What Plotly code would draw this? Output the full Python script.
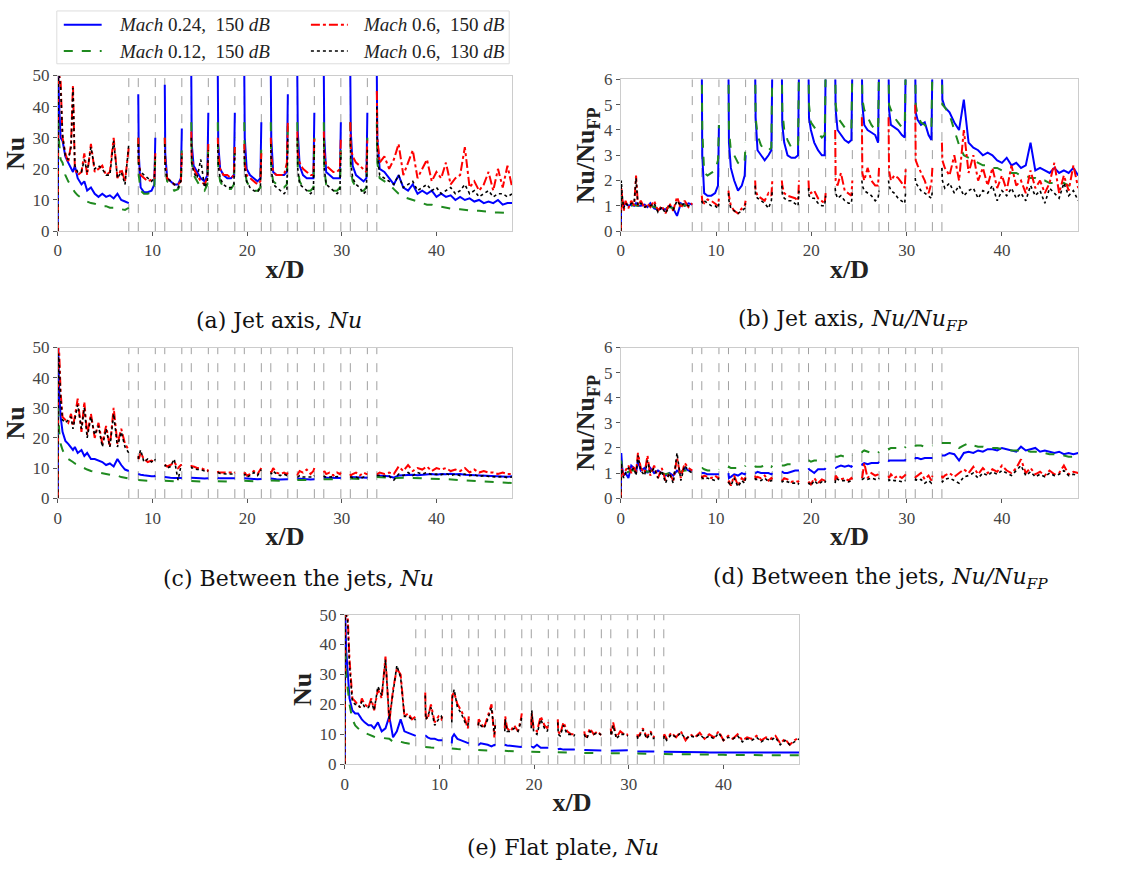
import plotly.graph_objects as go

# ---------------- x sampling (x/D) ----------------
SEG0_X = [0, 0.05, 0.15, 0.3, 0.5, 0.8, 1.1, 1.4, 1.6, 1.8, 2.1, 2.5, 2.8, 3.1, 3.5,
          3.9, 4.3, 4.7, 5.1, 5.5, 5.9, 6.3, 6.7, 7.1, 7.5]
JET_STARTS = [8.5, 11.3, 14.1, 16.9, 19.7, 22.5, 25.3, 28.1, 30.9]
JET_OFFSETS = [0, 0.05, 0.25, 0.6, 1.0, 1.4, 1.7, 1.8]
LAST_X = [33.7, 33.75, 34.0, 34.5, 35.0, 35.5, 36.0, 36.5, 37.0, 37.5, 38.0, 38.5, 39.0,
          39.5, 40.0, 40.5, 41.0, 41.5, 42.0, 42.5, 43.0, 43.5, 44.0, 44.5, 45.0, 45.5,
          46.0, 46.5, 47.0, 47.5, 48.0]
JET_EDGES = [7.5, 8.5, 10.3, 11.3, 13.1, 14.1, 15.9, 16.9, 18.7, 19.7, 21.5, 22.5,
             24.3, 25.3, 27.1, 28.1, 29.9, 30.9, 32.7, 33.7]

SERIES_NAMES = ["<i>Mach</i> 0.24,  150 <i>dB</i>", "<i>Mach</i> 0.12,  150 <i>dB</i>",
                "<i>Mach</i> 0.6,  150 <i>dB</i>", "<i>Mach</i> 0.6,  130 <i>dB</i>"]

# ---------------- (a) Jet axis, Nu ----------------
A_M024 = [0, 50, 40, 30, 29, 24, 22, 20, 19, 21, 17, 15, 16, 13, 14, 12, 11, 12, 11, 11.5, 10.5, 12, 10, 9.5, 9,
          44, 25, 14, 12.5, 12.5, 13, 15, 30,
          47, 25, 17, 16, 15, 15, 17, 33,
          50, 28, 21, 19, 17, 16, 18, 38,
          50, 28, 20, 18, 17, 17, 18, 38,
          50, 30, 20, 18, 17, 16, 17, 35,
          50, 30, 19, 18, 18, 18, 19, 44,
          50, 32, 21, 18, 17, 17, 17, 38,
          50, 30, 19, 18, 17, 17, 17, 35,
          50, 32, 21, 18, 17, 16, 17, 38,
          50, 30, 20, 19, 17, 15, 18, 14, 13, 15, 12, 13, 12, 13, 11, 12, 11, 11.5, 10, 11, 10, 10.5, 9.5, 10, 9, 9.5, 9, 10, 8.5, 9, 9]
A_M012 = [0, 35, 28, 23, 22, 18, 16, 14.5, 13.5, 12.5, 11.5, 10.5, 10, 9.5, 9, 8.8, 8.5, 8, 8, 7.5, 7.5, 7.2, 7, 6.8, 7.5,
          30, 18, 13, 12, 12, 12.5, 14, 25,
          30, 20, 16, 15, 13, 13.5, 15, 28,
          35, 22, 18, 16, 14, 13, 15, 30,
          35, 20, 16, 14, 13.5, 13.5, 15, 30,
          35, 20, 16, 14, 13, 13, 14, 28,
          35, 20, 16, 15, 14, 14, 15, 35,
          35, 20, 16, 14, 13, 13, 14, 30,
          35, 20, 15, 14, 13, 13, 14, 28,
          35, 20, 16, 14, 13, 13, 14, 30,
          35, 22, 17, 16, 15, 13.5, 12, 11, 10.5, 10, 9.5, 9, 8.5, 8.5, 8, 7.8, 7.5, 7.3, 7, 7, 6.8, 6.8, 6.5, 6.5, 6.3, 6.2, 6, 6, 5.8, 5.8, 6]
A_M06_150 = [0, 50, 50, 48, 30, 25, 22, 28, 47, 20, 18, 19, 25, 18, 28, 19, 20, 21, 18, 19, 30, 17, 20, 16, 27,
             30, 22, 18, 17, 16, 16.5, 17, 25,
             30, 22, 17, 16, 15, 15, 16, 25,
             32, 24, 20, 18, 16, 15, 17, 28,
             30, 25, 20, 18, 18, 17, 18, 27,
             28, 22, 18, 17, 16, 15, 16, 25,
             30, 24, 19, 18, 18, 18, 22, 35,
             32, 25, 22, 20, 19, 18, 18, 30,
             32, 25, 21, 20, 19, 19, 20, 30,
             35, 27, 24, 22, 21, 20, 19, 30,
             45, 30, 22, 24, 20, 23, 28, 18, 22, 26, 17, 20, 23, 16, 19, 17, 22, 15, 17, 18, 27, 14, 16, 13, 15, 19, 13, 20, 14, 21, 14]
A_M06_130 = [0, 50, 50, 46, 31, 24, 23, 27, 46, 21, 19, 19, 23, 19, 27, 20, 21, 20, 18, 18, 29, 17, 19, 15, 28,
             28, 21, 19, 18, 17, 16, 17, 24,
             28, 20, 17, 16, 15, 14, 16, 24,
             30, 22, 19, 17, 23, 14, 16, 26,
             28, 21, 17, 15, 14, 14, 15, 25,
             26, 20, 16, 14, 13, 12.5, 14, 24,
             28, 20, 15, 14, 13, 12, 13, 30,
             30, 20, 15, 14, 13, 12, 13, 28,
             30, 20, 15, 14, 13, 12, 13, 25,
             30, 22, 17, 15, 14, 12, 13, 27,
             40, 25, 18, 17, 16, 15, 18, 14, 15, 16, 13, 14, 15, 13, 14, 12, 13, 14, 12, 13, 15, 12, 13, 11, 12, 13, 11, 12, 12, 11, 12]

# ---------------- (b) Jet axis, Nu/Nu_FP ----------------
B_M024 = [0, 1.5, 1.2, 1.0, 1.1, 1.0, 1.05, 1.0, 1.1, 1.0, 1.0, 1.05, 0.95, 1.1, 0.9, 0.85, 0.9, 0.85, 1.0, 0.9, 0.6, 1.1, 1.0, 1.1, 1.05,
          6.5, 3, 1.5, 1.4, 1.4, 1.5, 1.8, 4.2,
          6.5, 3.5, 2.5, 2.0, 1.6, 1.8, 2.2, 3.0,
          6.5, 4.5, 3.2, 3.0, 2.8, 3.0, 3.2, 6.5,
          6.5, 4.2, 3.5, 3.0, 2.9, 2.9, 3.0, 6.5,
          6.5, 4.5, 4.0, 3.5, 3.2, 3.0, 3.0, 6.5,
          6.5, 4.8, 4.0, 3.8, 3.6, 3.5, 3.6, 6.5,
          6.5, 5.0, 4.2, 4.0, 3.9, 3.8, 3.5, 6.5,
          6.5, 4.8, 4.2, 4.1, 4.0, 3.8, 3.7, 6.5,
          6.5, 4.7, 4.4, 4.2, 4.3, 3.8, 3.6, 6.5,
          6.5, 5.2, 4.9, 4.7, 4.3, 4.0, 5.2, 3.5, 3.3, 3.2, 3.0, 3.1, 3.0, 2.8, 2.7, 2.9, 2.6, 2.7, 2.5, 2.6, 3.5, 2.4, 2.5, 2.4, 2.3, 2.5, 2.3, 2.4, 2.3, 2.5, 2.2]
B_M012 = [0, 1.4, 1.1, 1.0, 1.05, 1.0, 1.0, 1.05, 1.0, 1.0, 1.0, 1.0, 1.0, 1.0, 0.95, 0.9, 0.9, 0.9, 0.95, 0.9, 0.8, 1.05, 1.0, 1.05, 1.0,
          6.5, 4.0, 2.3, 2.2, 2.3, 2.4, 2.8, 4.2,
          6.5, 4.0, 3.2, 3.0, 2.7, 2.6, 2.8, 3.5,
          6.5, 4.5, 3.8, 3.4, 3.2, 3.2, 3.3, 6.5,
          6.5, 4.8, 4.0, 3.6, 3.3, 3.3, 3.4, 6.5,
          6.5, 5.0, 4.3, 4.1, 3.9, 3.7, 3.8, 6.5,
          6.5, 5.0, 4.5, 4.3, 4.1, 4.0, 4.0, 6.5,
          6.5, 5.2, 4.8, 4.5, 4.2, 4.0, 4.0, 6.5,
          6.5, 5.0, 4.8, 4.5, 4.3, 4.1, 4.2, 6.5,
          6.5, 5.0, 4.6, 4.3, 4.2, 4.0, 4.1, 6.5,
          6.5, 5.0, 4.9, 4.6, 4.0, 3.4, 3.0, 2.9, 2.8, 2.7, 2.6, 2.6, 2.5, 2.5, 2.4, 2.4, 2.3, 2.3, 2.2, 2.2, 2.1, 2.1, 2.0, 2.0, 1.9, 1.9, 1.9, 1.9, 1.8, 1.8, 1.8]
B_M06_150 = [0, 1.7, 1.3, 0.8, 1.2, 0.9, 1.2, 1.0, 2.2, 1.0, 1.2, 0.9, 1.1, 0.95, 1.2, 0.8, 1.0, 0.7, 1.1, 0.8, 1.35, 0.9, 1.2, 0.95, 1.1,
             1.4, 1.2, 1.1, 1.25, 1.2, 1.1, 1.0, 1.3,
             1.6, 1.4, 1.0, 0.8, 0.7, 0.9, 1.0, 1.2,
             2.0, 1.6, 1.4, 1.3, 1.2, 1.5, 1.4, 2.0,
             2.0, 1.8, 1.5, 1.4, 1.35, 1.3, 1.2, 2.0,
             2.0, 1.6, 1.5, 1.6, 1.3, 1.2, 1.1, 1.5,
             4.0, 2.0, 1.8, 2.3, 1.6, 1.5, 1.4, 2.0,
             4.5, 2.3, 2.0, 2.5, 2.0, 1.8, 1.8, 2.5,
             4.5, 2.4, 2.0, 2.2, 2.1, 1.9, 1.7, 2.5,
             5.0, 2.8, 2.6, 2.3, 2.0, 1.5, 1.9, 2.5,
             3.5, 2.8, 2.5, 2.2, 3.0, 2.0, 4.0, 2.3, 3.0, 2.0, 2.5, 1.8, 2.5, 1.7, 2.2, 1.6, 2.6, 1.8, 2.0, 1.5, 2.4, 1.7, 2.0, 1.5, 1.9, 2.7, 1.5, 2.2, 1.6, 2.6, 1.7]
B_M06_130 = [0, 2.0, 1.4, 0.9, 1.1, 1.0, 1.1, 1.1, 2.1, 1.0, 1.1, 0.95, 1.0, 1.0, 1.1, 0.75, 0.95, 0.7, 1.0, 0.85, 1.2, 1.0, 1.1, 1.0, 1.05,
             1.2, 1.1, 1.2, 1.1, 1.0, 1.0, 0.9, 1.1,
             1.5, 1.2, 0.9, 0.8, 0.7, 0.8, 0.9, 1.1,
             1.8, 1.4, 1.3, 1.2, 1.1, 0.9, 1.2, 1.6,
             1.8, 1.5, 1.3, 1.2, 1.2, 1.1, 1.0, 1.6,
             1.7, 1.4, 1.3, 1.3, 1.1, 1.0, 1.0, 1.4,
             1.7, 1.5, 1.3, 1.4, 1.2, 1.1, 1.1, 1.5,
             2.0, 1.8, 1.6, 1.5, 1.4, 1.2, 1.3, 1.6,
             2.0, 1.8, 1.6, 1.5, 1.3, 1.2, 1.1, 1.6,
             2.1, 1.9, 1.8, 1.6, 1.5, 1.4, 1.3, 1.6,
             2.5, 2.0, 1.7, 1.9, 1.5, 1.8, 1.4, 1.6, 1.7, 1.3, 1.6, 1.5, 1.8, 1.2, 1.6, 1.4, 1.7, 1.3, 1.5, 1.2, 1.8, 1.4, 1.6, 1.1, 1.7, 1.5, 1.3, 1.9, 1.4, 1.6, 1.2]

# ---------------- (c) Between the jets, Nu ----------------
C_M024 = [0, 50, 35, 27, 22, 19, 18, 17, 16, 17, 15, 16, 14, 15, 13, 13, 12.5, 12, 11, 11.5, 10.5, 13, 11, 9.5, 9,
          8, 8, 7.8, 7.6, 7.4, 7.3, 7.3, 7.5,
          7, 7, 6.8, 6.8, 6.7, 6.6, 6.6, 6.7,
          6.8, 6.8, 6.7, 6.6, 6.6, 6.5, 6.5, 6.6,
          6.8, 6.7, 6.6, 6.6, 6.5, 6.5, 6.5, 6.6,
          6.6, 6.6, 6.5, 6.5, 6.4, 6.3, 6.3, 6.4,
          6.5, 6.5, 6.4, 6.3, 6.2, 6.2, 6.2, 6.3,
          6.5, 6.5, 6.4, 6.3, 6.3, 6.2, 6.2, 6.3,
          6.8, 6.8, 6.7, 6.6, 6.6, 6.6, 6.6, 6.7,
          7, 7, 6.9, 6.9, 6.8, 6.8, 6.8, 6.8,
          7.5, 7.5, 7.5, 7.4, 7.3, 6.8, 7.5, 7.6, 7.7, 7.8, 7.6, 7.8, 7.9, 8, 7.8, 8, 7.9, 8.1, 7.9, 8, 7.8, 7.7, 7.6, 7.5, 7.4, 7.3, 7.2, 7.2, 7.1, 7.1, 7.3]
C_M012 = [0, 30, 22, 18, 16, 14, 13, 12.5, 12, 11.5, 11, 10.5, 10, 9.5, 9, 8.8, 8.5, 8.2, 8, 7.8, 7.5, 7.5, 7, 6.8, 6.5,
          6, 6, 6, 5.8, 5.8, 5.7, 5.7, 5.8,
          5.8, 5.8, 5.7, 5.6, 5.6, 5.5, 5.5, 5.6,
          5.7, 5.7, 5.6, 5.6, 5.5, 5.5, 5.4, 5.5,
          5.6, 5.6, 5.5, 5.5, 5.4, 5.4, 5.4, 5.5,
          5.8, 5.8, 5.7, 5.6, 5.6, 5.5, 5.5, 5.6,
          5.9, 5.9, 5.8, 5.8, 5.7, 5.7, 5.7, 5.7,
          6, 6, 6, 5.9, 5.9, 5.9, 5.9, 6,
          6.3, 6.3, 6.2, 6.2, 6.2, 6.1, 6.1, 6.2,
          6.5, 6.5, 6.4, 6.4, 6.3, 6.3, 6.3, 6.3,
          7, 7, 7, 6.8, 6.8, 6.7, 6.8, 6.8, 6.8, 6.7, 6.6, 6.6, 6.5, 6.5, 6.4, 6.3, 6.3, 6.2, 6.1, 6, 5.9, 5.8, 5.7, 5.6, 5.5, 5.4, 5.3, 5.2, 5.1, 5, 5]
C_M06_150 = [0, 50, 48, 35, 27, 26, 25, 28, 24, 27, 33, 22, 32, 21, 28, 20, 25, 18, 24, 17, 30, 18, 23, 18, 16,
             14, 13, 15, 13, 12, 12.5, 12, 12,
             11, 11, 10.5, 11, 12, 10, 11, 11,
             11, 10.5, 10.5, 10, 10, 9.5, 9, 9.5,
             9, 8.5, 8.5, 8.5, 8.3, 8.5, 8.2, 8.5,
             8, 8.5, 7.5, 8, 9, 8, 9.5, 10,
             9, 8.5, 10, 8.5, 8, 8.5, 8, 8.5,
             7.5, 8, 9, 8.5, 9.5, 8, 9, 10,
             8.5, 9, 8, 8.5, 7.5, 8.5, 8, 8.5,
             8, 7.5, 8, 8.5, 7.5, 8.5, 8, 8,
             8, 8, 8.5, 8, 8.5, 8, 10.5, 9, 11, 9, 10, 9.5, 10.5, 9, 10, 9.5, 10, 9, 9.5, 9, 10, 8.5, 9.5, 8.5, 9, 8.5, 8.5, 8, 8.5, 8, 8]
C_M06_130 = [0, 48, 45, 33, 26, 25, 26, 27, 23, 26, 31, 23, 30, 20, 27, 21, 24, 17, 23, 17, 28, 17, 22, 17, 15,
             13, 14, 16, 12, 13, 12, 13, 12.5,
             10.5, 11, 10, 10.5, 13, 6, 10.5, 11,
             10.5, 10, 10, 9.5, 9.5, 9, 9, 9,
             8.5, 8.5, 8.2, 8, 8, 8, 8, 8,
             7.5, 8, 7, 7.5, 8.5, 7.5, 9, 9.5,
             8.5, 8, 9, 8, 7.5, 8, 7.5, 8,
             7, 7, 7.5, 7, 7, 7, 7, 7.5,
             7.5, 7.2, 7, 7, 7, 7, 7, 7.2,
             7.2, 7, 6.8, 7, 6.5, 7, 6.8, 7,
             7.5, 7.5, 7.5, 7.2, 7.3, 6, 8, 7.5, 8.5, 7.5, 8.5, 8, 8.5, 7.8, 8, 7.8, 8.2, 7.5, 8, 7.5, 8, 7.5, 7.8, 7.2, 7.5, 7.2, 7, 7, 7.2, 6.8, 7]

# ---------------- (d) Between the jets, Nu/Nu_FP ----------------
D_M024 = [0, 1.8, 1.2, 0.9, 1.0, 0.8, 1.3, 1.2, 1.0, 1.5, 1.1, 1.2, 1.0, 1.2, 1.0, 1.1, 1.0, 0.9, 1.0, 0.9, 1.1, 1.0, 1.2, 1.1, 1.1,
          1.0, 1.0, 1.0, 0.95, 0.95, 0.95, 0.95, 0.95,
          1.0, 0.8, 0.85, 0.95, 0.9, 1.0, 0.95, 1.0,
          1.0, 1.0, 1.05, 1.0, 1.0, 1.0, 0.95, 1.0,
          1.05, 1.05, 1.0, 1.0, 1.05, 1.1, 1.1, 1.1,
          1.2, 1.15, 1.1, 1.0, 1.15, 1.15, 1.15, 1.2,
          1.2, 1.2, 1.25, 1.3, 1.25, 1.3, 1.25, 1.3,
          1.3, 1.35, 1.4, 1.35, 1.4, 1.4, 1.4, 1.45,
          1.45, 1.5, 1.5, 1.5, 1.5, 1.5, 1.5, 1.55,
          1.55, 1.6, 1.6, 1.55, 1.6, 1.6, 1.6, 1.6,
          1.7, 1.7, 1.7, 1.8, 1.75, 1.5, 1.8, 1.85, 1.8, 1.9, 1.85, 1.95, 1.95, 1.9, 2.0, 1.95, 1.9, 1.85, 2.05, 1.9, 1.95, 2.0, 1.85, 1.9, 1.85, 1.8, 1.85, 1.75, 1.8, 1.75, 1.8]
D_M012 = [0, 1.5, 1.1, 1.0, 1.0, 1.05, 1.1, 1.1, 1.05, 1.1, 1.1, 1.1, 1.05, 1.1, 1.05, 1.0, 1.0, 0.95, 1.0, 0.95, 1.0, 1.05, 1.1, 1.1, 1.1,
          1.2, 1.2, 1.15, 1.1, 1.1, 1.1, 1.1, 1.15,
          1.2, 1.25, 1.2, 1.2, 1.2, 1.25, 1.25, 1.3,
          1.3, 1.25, 1.25, 1.25, 1.3, 1.35, 1.25, 1.3,
          1.3, 1.3, 1.3, 1.35, 1.35, 1.35, 1.35, 1.4,
          1.5, 1.5, 1.45, 1.5, 1.5, 1.45, 1.45, 1.5,
          1.65, 1.65, 1.65, 1.7, 1.65, 1.65, 1.65, 1.7,
          1.8, 1.85, 1.9, 1.85, 1.8, 1.8, 1.8, 1.85,
          2.0, 1.95, 2.0, 2.0, 2.0, 2.05, 2.0, 2.05,
          2.05, 2.1, 2.1, 2.1, 2.05, 2.1, 2.1, 2.1,
          2.2, 2.2, 2.2, 2.2, 2.15, 2.0, 2.1, 2.2, 2.1, 2.05, 2.05, 2.0, 2.0, 2.0, 1.95, 1.95, 1.9, 1.9, 1.9, 1.9, 1.85, 1.85, 1.8, 1.8, 1.75, 1.75, 1.7, 1.7, 1.65, 1.65, 1.6]
D_M06_150 = [0, 1.3, 1.1, 0.9, 1.1, 1.3, 1.0, 1.3, 1.0, 1.8, 1.2, 1.0, 1.7, 0.9, 1.3, 0.8, 1.2, 0.7, 1.0, 0.7, 1.6, 0.8, 1.4, 1.2, 1.1,
             0.9, 0.8, 0.9, 0.85, 0.8, 0.9, 0.8, 0.85,
             0.6, 0.7, 0.5, 0.9, 0.5, 0.8, 0.7, 0.9,
             0.9, 0.8, 0.85, 0.8, 0.9, 0.7, 0.8, 0.75,
             0.75, 0.7, 0.8, 0.75, 0.65, 0.7, 0.65, 0.7,
             0.6, 0.65, 0.55, 0.8, 0.6, 0.75, 0.7, 0.75,
             0.7, 0.9, 0.8, 0.75, 0.8, 0.7, 0.8, 0.75,
             0.8, 0.85, 1.4, 0.8, 1.0, 0.9, 0.95, 1.0,
             0.9, 0.8, 0.95, 0.8, 0.9, 0.8, 0.9, 0.95,
             0.8, 0.85, 0.9, 1.0, 0.75, 0.9, 0.7, 0.9,
             0.9, 0.8, 0.9, 1.0, 0.85, 1.0, 1.15, 1.0, 1.25, 0.95, 1.2, 1.0, 1.15, 1.05, 1.3, 1.1, 1.0, 1.2, 1.55, 1.0, 1.2, 0.95, 1.05, 0.9, 1.1, 0.95, 1.0, 1.3, 0.95, 1.05, 1.0]
D_M06_130 = [0, 1.4, 1.0, 0.8, 1.0, 1.2, 1.1, 1.2, 0.9, 1.7, 1.1, 0.9, 1.5, 1.0, 1.2, 0.8, 1.1, 0.6, 1.0, 0.6, 1.8, 0.7, 1.3, 1.1, 1.0,
             0.85, 0.8, 0.75, 0.8, 0.75, 0.7, 0.75, 0.8,
             0.65, 0.6, 0.5, 0.8, 0.45, 0.7, 0.6, 0.8,
             0.8, 0.75, 0.75, 0.7, 0.8, 0.65, 0.7, 0.7,
             0.7, 0.65, 0.7, 0.65, 0.6, 0.6, 0.55, 0.6,
             0.55, 0.6, 0.5, 0.7, 0.55, 0.65, 0.6, 0.7,
             0.6, 0.8, 0.75, 0.7, 0.7, 0.65, 0.7, 0.7,
             0.75, 0.75, 0.8, 0.75, 0.8, 0.75, 0.75, 0.8,
             0.75, 0.7, 0.75, 0.7, 0.7, 0.65, 0.7, 0.7,
             0.7, 0.75, 0.7, 0.75, 0.6, 0.7, 0.6, 0.7,
             0.7, 0.65, 0.75, 0.8, 0.7, 0.6, 0.85, 0.9, 1.0, 0.8, 1.0, 0.9, 1.05, 0.95, 1.1, 1.0, 0.9, 1.1, 1.3, 0.9, 1.05, 0.85, 0.95, 0.85, 1.0, 0.9, 0.95, 1.1, 0.9, 0.95, 0.9]

# ---------------- (e) Flat plate, Nu ----------------
E_M024 = [0, 50, 38, 30, 22, 18, 17, 17, 16, 15, 14, 13, 13, 12, 14, 11, 12, 16, 9, 11, 15, 11, 10.5, 10, 9.5,
          9.5, 9.5, 9, 8.5, 8.5, 8, 8, 8,
          7, 9, 10, 8.5, 8, 7.5, 7, 7,
          6.5, 6.5, 7, 6.8, 6.5, 6, 6.5, 6.3,
          6.5, 6.5, 6.3, 6.2, 6.0, 5.9, 5.8, 6.0,
          5.7, 5.8, 5.6, 6.5, 5.5, 5.4, 5.4, 5.5,
          5.0, 5.0, 5.2, 4.9, 5.0, 4.9, 4.9, 5.0,
          4.8, 4.8, 4.7, 4.7, 4.7, 4.6, 4.6, 4.6,
          4.5, 4.5, 4.6, 4.5, 4.5, 4.6, 4.6, 4.7,
          4.3, 4.3, 4.4, 4.3, 4.4, 4.3, 4.3, 4.3,
          4.2, 4.2, 4.1, 4.2, 4.0, 4.1, 4.0, 4.1, 4.0, 4.0, 4.0, 3.9, 4.0, 3.9, 3.9, 4.0, 3.9, 3.9, 3.9, 3.8, 3.9, 3.8, 3.8, 3.9, 3.8, 3.8, 3.8, 3.7, 3.8, 3.8, 3.9]
E_M012 = [0, 40, 30, 25, 20, 15, 13, 12, 11.5, 11, 10.5, 10, 9.5, 9.2, 9, 8.8, 8.5, 8.5, 7.5, 7.6, 7.5, 7.2, 7.0, 6.8, 6.5,
          5.8, 5.8, 5.7, 5.6, 5.5, 5.4, 5.4, 5.4,
          5.3, 5.3, 5.2, 5.1, 5.0, 5.0, 4.9, 4.9,
          4.8, 4.8, 4.7, 4.6, 4.6, 4.5, 4.5, 4.5,
          4.5, 4.5, 4.4, 4.3, 4.3, 4.2, 4.2, 4.2,
          4.2, 4.2, 4.1, 4.1, 4.0, 4.0, 4.0, 4.0,
          4.0, 4.0, 3.9, 3.9, 3.9, 3.8, 3.8, 3.8,
          3.8, 3.8, 3.8, 3.7, 3.7, 3.7, 3.7, 3.7,
          3.7, 3.7, 3.6, 3.6, 3.6, 3.6, 3.6, 3.6,
          3.6, 3.6, 3.5, 3.5, 3.5, 3.5, 3.5, 3.5,
          3.4, 3.4, 3.4, 3.4, 3.3, 3.3, 3.3, 3.3, 3.3, 3.2, 3.2, 3.2, 3.2, 3.2, 3.2, 3.1, 3.1, 3.1, 3.1, 3.1, 3.1, 3.0, 3.0, 3.0, 3.0, 3.0, 3.0, 3.0, 3.0, 3.0, 3.0]
E_M06_150 = [0, 50, 50, 50, 35, 22, 21, 20, 19, 22, 20, 19, 22, 18, 25, 22, 36, 14, 25, 32, 30, 16, 17, 15, 16,
             24, 16, 15, 20, 14, 16, 15, 16,
             15, 23, 24, 20, 18, 15, 12, 16,
             13, 15, 14, 12, 16, 20, 9, 14,
             12, 16, 12, 11, 13, 11, 15, 17,
             13, 17, 12, 11, 16, 13, 12, 14,
             15, 11, 10, 14, 11, 10, 10, 10.5,
             11, 10, 9, 12, 10, 11, 10, 10.5,
             12, 10, 14, 9, 11, 10, 10, 9.5,
             10, 9, 10, 12, 9, 11, 9, 9.5,
             9, 10, 8.5, 10.5, 9, 11, 8, 10, 9, 10.5, 8.5, 10, 9, 11, 8, 9.5, 8.5, 10, 8, 9, 8.5, 9.5, 8, 9, 8.5, 9.5, 7, 8.5, 6.5, 8, 9]
E_M06_130 = [0, 50, 50, 48, 33, 21, 20, 20, 19, 21, 19, 19, 21, 18, 26, 23, 35, 15, 24, 33, 29, 16, 16, 15, 15,
             23, 15, 16, 19, 13, 15, 16, 15,
             14, 22, 25, 19, 17, 14, 13, 15,
             13, 14, 13, 12, 15, 19, 10, 13,
             11, 15, 11, 11, 12, 11, 14, 16,
             12, 18, 11, 10, 15, 12, 11, 13,
             14, 10, 9.5, 13, 10, 10, 9.5, 10,
             10, 9.5, 8.5, 11, 10, 10.5, 10, 10,
             11, 9.5, 13, 8.5, 10, 10, 9.5, 9.5,
             9.5, 8.5, 9.5, 11.5, 8.5, 10.5, 8.5, 9,
             8.5, 9.5, 8, 10, 9, 10.5, 8.5, 9.5, 9, 10, 8.5, 9.5, 8.5, 10.5, 8, 9, 8.5, 9.5, 7.5, 8.5, 8, 9, 7.5, 8.5, 8, 9, 6.5, 8, 6.5, 7.5, 8.5]

# ---------------- build figure ----------------
SEGMENTS = [SEG0_X] + [[s + o for o in JET_OFFSETS] for s in JET_STARTS] + [LAST_X]


def split_series(vals):
    xs, ys, i = [], [], 0
    total = sum(len(s) for s in SEGMENTS)
    if len(vals) != total:
        raise ValueError(f"length {len(vals)} != {total}")
    for seg in SEGMENTS:
        xs += seg + [None]
        ys += vals[i:i + len(seg)] + [None]
        i += len(seg)
    return xs, ys


STYLES = [dict(color="#0000ff", width=2, dash="solid"),
          dict(color="#1f8a1f", width=2, dash="dash"),
          dict(color="#ff0000", width=2, dash="dashdot"),
          dict(color="#000000", width=1.6, dash="dot")]

W, H = 1126, 877


def px_x(p):
    return p / W


def px_y(p):
    return 1 - p / H


PANELS = [
    ("", [A_M024, A_M012, A_M06_150, A_M06_130], (54, 510), (68, 227), [0, 50], [0, 10, 20, 30, 40, 50], "<b>Nu</b>"),
    ("2", [B_M024, B_M012, B_M06_150, B_M06_130], (619, 1078), (72, 227), [0, 6], [0, 1, 2, 3, 4, 5, 6], "<b>Nu/Nu<sub>FP</sub></b>"),
    ("3", [C_M024, C_M012, C_M06_150, C_M06_130], (54, 510), (346, 500), [0, 50], [0, 10, 20, 30, 40, 50], "<b>Nu</b>"),
    ("4", [D_M024, D_M012, D_M06_150, D_M06_130], (619, 1078), (346, 500), [0, 6], [0, 1, 2, 3, 4, 5, 6], "<b>Nu/Nu<sub>FP</sub></b>"),
    ("5", [E_M024, E_M012, E_M06_150, E_M06_130], (342, 798), (619, 772), [0, 50], [0, 10, 20, 30, 40, 50], "<b>Nu</b>"),
]

fig = go.Figure()
SERIF = "Liberation Serif"
tickfont = dict(family=SERIF, size=17, color="#444444")
titlefont = dict(family=SERIF, size=26, color="#222222")

layout = dict(width=W, height=H, margin=dict(l=0, r=0, t=0, b=0),
              paper_bgcolor="white", plot_bgcolor="white", showlegend=False)

for suffix, series, (x0, x1), (y0, y1), yr, ytv, ytitle in PANELS:
    xa, ya = "x" + suffix, "y" + suffix
    for vals, st, name in zip(series, STYLES, SERIES_NAMES):
        xs, ys = split_series(vals)
        fig.add_trace(go.Scatter(x=xs, y=ys, mode="lines", line=st, name=name,
                                 xaxis=xa, yaxis=ya, connectgaps=False, hoverinfo="skip"))
    for e in JET_EDGES:
        fig.add_shape(type="line", xref=xa, yref=ya + " domain", x0=e, x1=e, y0=0, y1=1,
                      line=dict(color="#a0a0a0", width=1, dash="dash"), layer="below")
    layout["xaxis" + suffix] = dict(domain=[px_x(x0), px_x(x1)], anchor=ya, range=[0, 48],
                                    tickvals=[0, 10, 20, 30, 40], ticks="outside", ticklen=4,
                                    tickcolor="#555", tickfont=tickfont, showgrid=False,
                                    zeroline=False, showline=True, linecolor="#cccccc",
                                    linewidth=1, mirror=True,
                                    title=dict(text="<b>x/D</b>", font=titlefont, standoff=0))
    layout["yaxis" + suffix] = dict(domain=[px_y(y1), px_y(y0)], anchor=xa, range=yr,
                                    tickvals=ytv, ticks="outside", ticklen=4, tickcolor="#555",
                                    tickfont=tickfont, showgrid=False, zeroline=False,
                                    showline=True, linecolor="#cccccc", linewidth=1, mirror=True,
                                    title=dict(text=ytitle, font=titlefont, standoff=0))

fig.update_layout(**layout)

# captions
CAPFONT = "DejaVu Serif"
CAPTIONS = [("(a) Jet axis, <i>Nu</i>", 276, 318),
            ("(b) Jet axis, <i>Nu/Nu<sub>FP</sub></i>", 852, 318),
            ("(c) Between the jets, <i>Nu</i>", 296, 582),
            ("(d) Between the jets, <i>Nu/Nu<sub>FP</sub></i>", 880, 582),
            ("(e) Flat plate, <i>Nu</i>", 561, 857)]
for txt, cx, cy in CAPTIONS:
    fig.add_annotation(text=txt, xref="paper", yref="paper", x=px_x(cx), y=px_y(cy),
                       showarrow=False, xanchor="center", yanchor="middle",
                       font=dict(family=CAPFONT, size=22, color="#111"))

# legend (manual, two columns)
fig.add_shape(type="rect", xref="paper", yref="paper", x0=px_x(53), x1=px_x(507),
              y0=px_y(56), y1=px_y(2), line=dict(color="#dddddd", width=1), fillcolor="white")
LEG_POS = [(60, 98, 113, 16), (60, 98, 113, 43), (308, 345, 358, 16), (308, 345, 358, 43)]
for (lx0, lx1, tx, ty), st, name in zip(LEG_POS, STYLES, SERIES_NAMES):
    fig.add_shape(type="line", xref="paper", yref="paper", x0=px_x(lx0), x1=px_x(lx1),
                  y0=px_y(ty), y1=px_y(ty), line=st)
    fig.add_annotation(text=name, xref="paper", yref="paper", x=px_x(tx), y=px_y(ty),
                       showarrow=False, xanchor="left", yanchor="middle",
                       font=dict(family=SERIF, size=19, color="#222"))

fig.write_html(
    "out.html",
    config={"displayModeBar": False},
    post_script=("document.body.style.margin='0';"
                 "document.body.style.overflow='hidden';"
                 "document.documentElement.style.overflow='hidden';"),
)
